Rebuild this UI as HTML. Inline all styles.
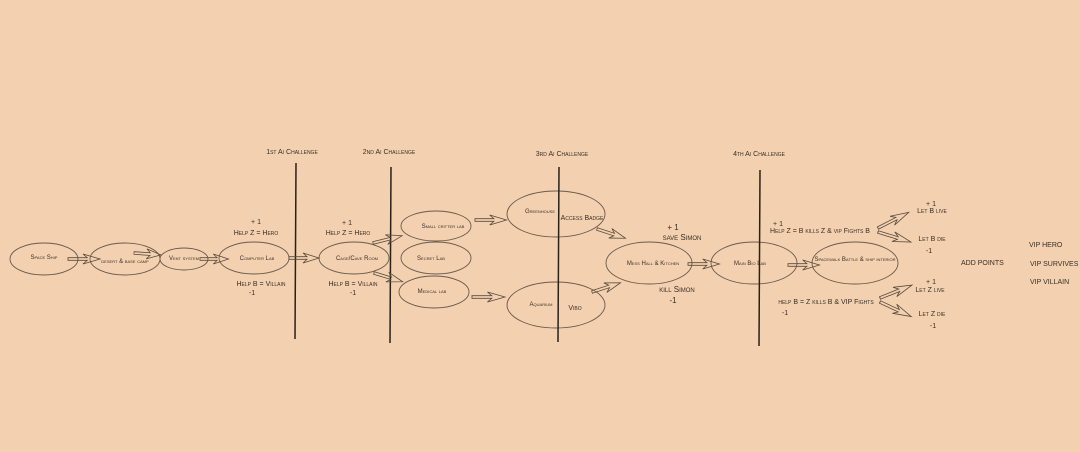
<!DOCTYPE html>
<html><head><meta charset="utf-8"><style>
html,body{margin:0;padding:0;background:#f3d1b0;}
svg{display:block;font-family:"Liberation Sans",sans-serif;font-variant:small-caps;}
text{fill:#3a2e24;}
</style></head><body>
<svg width="1080" height="452" viewBox="0 0 1080 452">
<defs>
<polygon id="ar" points="0,-1.3 18,-1.3 14,-5 30,0 14,5 18,1.3 0,1.3" fill="none" stroke="#5a4a3c" stroke-width="0.8"/>
</defs>
<rect width="1080" height="452" fill="#f3d1b0"/>
<g fill="none" stroke="#6a5a4c" stroke-width="0.9">
<ellipse cx="44" cy="259" rx="34" ry="16"/>
<ellipse cx="125" cy="259" rx="35" ry="16"/>
<ellipse cx="184" cy="259" rx="24" ry="11"/>
<ellipse cx="254" cy="258" rx="35" ry="16"/>
<ellipse cx="354" cy="258" rx="35" ry="16"/>
<ellipse cx="436" cy="226" rx="35" ry="15"/>
<ellipse cx="436" cy="258" rx="35" ry="16"/>
<ellipse cx="434" cy="292" rx="35" ry="16"/>
<ellipse cx="556" cy="214" rx="49" ry="23"/>
<ellipse cx="556" cy="305" rx="49" ry="23"/>
<ellipse cx="649" cy="263" rx="43" ry="21"/>
<ellipse cx="754" cy="263" rx="43" ry="21"/>
<ellipse cx="855" cy="263" rx="43" ry="21"/>
</g>
<g stroke="#2a2018" stroke-width="1.5">
<line x1="296" y1="163" x2="295" y2="339"/>
<line x1="391" y1="167" x2="390" y2="343"/>
<line x1="559" y1="167" x2="558" y2="342"/>
<line x1="760" y1="170" x2="759" y2="346"/>
</g>
<use href="#ar" transform="translate(68,259) scale(1.07,1)"/>
<use href="#ar" transform="translate(134,253) rotate(4) scale(0.9,1)"/>
<use href="#ar" transform="translate(200,259) scale(0.95,1)"/>
<use href="#ar" transform="translate(289,258) scale(1,1)"/>
<use href="#ar" transform="translate(373,243) rotate(-14) scale(1,1)"/>
<use href="#ar" transform="translate(374,273) rotate(17) scale(1,1)"/>
<use href="#ar" transform="translate(475,220) scale(1.05,1)"/>
<use href="#ar" transform="translate(472,297) scale(1.1,1)"/>
<use href="#ar" transform="translate(597,229) rotate(18) scale(1,1)"/>
<use href="#ar" transform="translate(592,292) rotate(-18) scale(1,1)"/>
<use href="#ar" transform="translate(688,264) scale(1.05,1)"/>
<use href="#ar" transform="translate(788,265) scale(1.05,1)"/>
<use href="#ar" transform="translate(878,228) rotate(-27) scale(1.15,1)"/>
<use href="#ar" transform="translate(878,232) rotate(17) scale(1.15,1)"/>
<use href="#ar" transform="translate(880,298) rotate(-22) scale(1.15,1)"/>
<use href="#ar" transform="translate(880,302) rotate(25) scale(1.15,1)"/>
<g font-size="6" text-anchor="middle">
<text x="44" y="259">Space Ship</text>
<text x="125" y="263">desert &amp; base camp</text>
<text x="184" y="260">Vent system</text>
<text x="257" y="260">Computer Lab</text>
<text x="357" y="260">Cage/Cave Room</text>
<text x="443" y="228">Small critter lab</text>
<text x="431" y="260">Secret Lab</text>
<text x="432" y="293">Medical lab</text>
<text x="540" y="213">Greenhouse</text>
<text x="541" y="306">Aquarium</text>
<text x="653" y="265">Mess Hall &amp; Kitchen</text>
<text x="750" y="265">Main Bio Lab</text>
<text x="855" y="261">Spacewalk Battle &amp; ship interior</text>
</g>
<g font-size="7" text-anchor="middle">
<text x="292" y="154">1st Ai Challenge</text>
<text x="389" y="154">2nd Ai Challenge</text>
<text x="562" y="156">3rd Ai Challenge</text>
<text x="759" y="156">4th Ai Challenge</text>
<text x="582" y="220">Access Badge</text>
<text x="575" y="310">Vibo</text>
<text x="256" y="224">+ 1</text>
<text x="256" y="235">Help Z = Hero</text>
<text x="261" y="286">Help B = Villain</text>
<text x="252" y="295">-1</text>
<text x="347" y="225">+ 1</text>
<text x="348" y="235">Help Z = Hero</text>
<text x="353" y="286">Help B = Villain</text>
<text x="353" y="295">-1</text>
<text x="778" y="226">+ 1</text>
<text x="820" y="233">Help Z = B kills Z &amp; vip Fights B</text>
<text x="826" y="304">help B = Z kills B &amp; VIP Fights</text>
<text x="785" y="315">-1</text>
<text x="931" y="206">+ 1</text>
<text x="932" y="213">Let B live</text>
<text x="932" y="241">Let B die</text>
<text x="929" y="253">-1</text>
<text x="931" y="284">+ 1</text>
<text x="930" y="292">Let Z live</text>
<text x="932" y="316">Let Z die</text>
<text x="933" y="328">-1</text>
</g>
<g font-size="8" text-anchor="middle">
<text x="673" y="230">+ 1</text>
<text x="682" y="240">save Simon</text>
<text x="677" y="292">kill Simon</text>
<text x="673" y="303">-1</text>
</g>
<g font-size="7" style="font-variant:normal">
<text x="961" y="265">ADD POINTS</text>
<text x="1029" y="247">VIP HERO</text>
<text x="1030" y="266">VIP SURVIVES</text>
<text x="1030" y="284">VIP VILLAIN</text>
</g>
</svg>
</body></html>
